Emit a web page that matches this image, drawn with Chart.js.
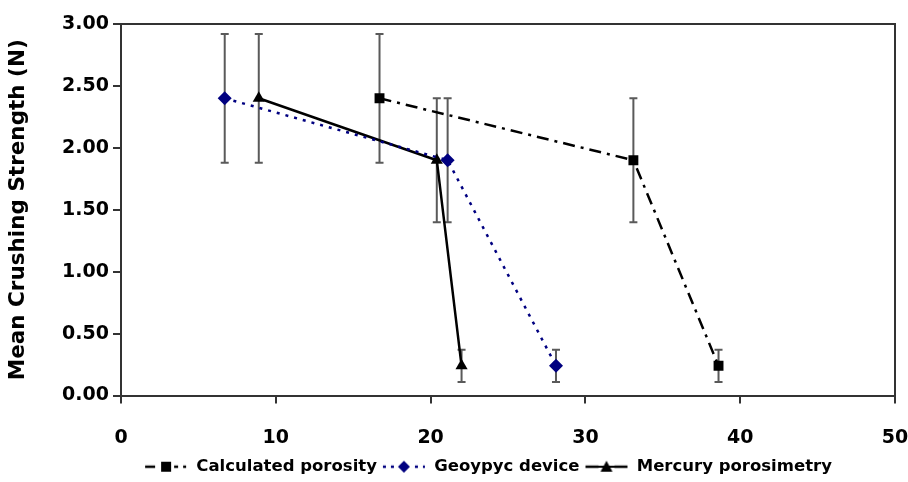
<!DOCTYPE html>
<html>
<head>
<meta charset="utf-8">
<script src="https://cdn.jsdelivr.net/npm/chart.js@4/dist/chart.umd.min.js"></script>
<style>
  html, body { margin: 0; padding: 0; background: #fff; }
  #wrap { width: 908px; height: 482px; }
</style>
</head>
<body>
<div id="wrap"><canvas id="chart" width="908" height="482"></canvas></div>
<script>
// porosity (%)
const calcPorosity = [16.7, 33.1, 38.6];
const geopycPorosity = [6.7, 21.1, 28.1];
const mercuryPorosity = [8.9, 20.4, 22.0];
// mean crushing strength (N), same for the three methods
const crushStrength = [2.40, 1.90, 0.24];
// +/- error (N)
const calcError = [0.52, 0.50, 0.13];
const geopycError = [0.52, 0.50, 0.13];
const mercuryError = [0.52, 0.50, 0.13];

const seriesLabels = ['Calculated porosity', 'Geoypyc device', 'Mercury porosimetry'];
const xTicks = [0, 10, 20, 30, 40, 50];
const yTicks = [0, 0.5, 1, 1.5, 2, 2.5, 3];

const FONT = '"DejaVu Sans", Arial, sans-serif';

function toPoints(xs, ys, errs) {
    return xs.map((x, i) => ({ x: x, y: ys[i], err: errs[i] }));
}

// small canvas used as legend symbol: line sample with the marker in the middle
function legendSymbol(color, dash, marker) {
    const c = document.createElement('canvas');
    c.width = 44;
    c.height = 16;
    const g = c.getContext('2d');
    g.strokeStyle = color;
    g.lineWidth = 2.5;
    g.setLineDash(dash);
    g.beginPath();
    g.moveTo(1, 8);
    g.lineTo(43, 8);
    g.stroke();
    g.setLineDash([]);
    g.fillStyle = '#fff';
    g.fillRect(14, 0, 16, 16);
    g.fillStyle = color;
    g.beginPath();
    if (marker === 'rect') {
        g.rect(17, 3, 10, 10);
    } else if (marker === 'diamond') {
        g.moveTo(22, 2); g.lineTo(28, 8); g.lineTo(22, 14); g.lineTo(16, 8);
    } else {
        g.moveTo(22, 2); g.lineTo(28, 13); g.lineTo(16, 13);
    }
    g.closePath();
    g.fill();
    // reconnect solid line around the marker
    if (dash.length === 0) {
        g.fillRect(8, 7, 28, 2);
    }
    return c;
}

// error bars drawn under the lines
const errorBars = {
    id: 'errorBars',
    beforeDatasetsDraw(chart) {
        const ctx = chart.ctx;
        const xs = chart.scales.x;
        const ys = chart.scales.y;
        ctx.save();
        ctx.strokeStyle = '#5a5a5a';
        ctx.lineWidth = 2;
        chart.data.datasets.forEach(ds => {
            ds.data.forEach(p => {
                const px = xs.getPixelForValue(p.x);
                const top = ys.getPixelForValue(p.y + p.err);
                const bot = ys.getPixelForValue(p.y - p.err);
                ctx.beginPath();
                ctx.moveTo(px, top); ctx.lineTo(px, bot);
                ctx.moveTo(px - 4, top); ctx.lineTo(px + 4, top);
                ctx.moveTo(px - 4, bot); ctx.lineTo(px + 4, bot);
                ctx.stroke();
            });
        });
        ctx.restore();
    }
};

// box round the plot area
const frame = {
    id: 'frame',
    afterDraw(chart) {
        const a = chart.chartArea;
        const ctx = chart.ctx;
        ctx.save();
        ctx.strokeStyle = '#333';
        ctx.lineWidth = 2;
        ctx.beginPath();
        ctx.moveTo(a.left, a.top);
        ctx.lineTo(a.right, a.top);
        ctx.lineTo(a.right, a.bottom);
        ctx.stroke();
        ctx.restore();
    }
};

// the legend sits a little left of the plot centre and low in the original
const legendShift = {
    id: 'legendShift',
    afterLayout(chart) {
        const lg = chart.legend;
        lg.left -= 20;
        lg.right -= 20;
        lg.top += 3;
        lg.bottom += 3;
    }
};

const symbols = [
    legendSymbol('#000', [10, 5, 3, 5], 'rect'),
    legendSymbol('#000080', [3, 5], 'diamond'),
    legendSymbol('#000', [], 'triangle')
];

new Chart(document.getElementById('chart'), {
    type: 'line',
    data: {
        datasets: [{
            label: seriesLabels[0],
            data: toPoints(calcPorosity, crushStrength, calcError),
            borderColor: '#000',
            backgroundColor: '#000',
            borderWidth: 2.5,
            borderDash: [12, 6, 3, 6],
            pointStyle: 'rect',
            pointRadius: 7,
            pointBorderWidth: 0
        }, {
            label: seriesLabels[1],
            data: toPoints(geopycPorosity, crushStrength, geopycError),
            borderColor: '#000080',
            backgroundColor: '#000080',
            borderWidth: 2.5,
            borderDash: [3, 6],
            pointStyle: 'rectRot',
            pointRadius: 7,
            pointBorderWidth: 0
        }, {
            label: seriesLabels[2],
            data: toPoints(mercuryPorosity, crushStrength, mercuryError),
            borderColor: '#000',
            backgroundColor: '#000',
            borderWidth: 2.5,
            pointStyle: 'triangle',
            pointRadius: 7,
            pointBorderWidth: 0
        }]
    },
    options: {
        responsive: false,
        animation: false,
        layout: { padding: { top: 24, right: 13, left: 0, bottom: 0 } },
        plugins: {
            tooltip: { enabled: false },
            legend: {
                position: 'bottom',
                fullSize: false,
                labels: {
                    usePointStyle: true,
                    pointStyleWidth: 44,
                    padding: 5,
                    color: '#000',
                    font: { family: FONT, size: 16.5, weight: 'bold' },
                    generateLabels(chart) {
                        return chart.data.datasets.map((ds, i) => ({
                            text: ds.label,
                            pointStyle: symbols[i],
                            fillStyle: ds.backgroundColor,
                            strokeStyle: ds.borderColor,
                            lineWidth: 0,
                            fontColor: '#000',
                            datasetIndex: i
                        }));
                    }
                }
            }
        },
        scales: {
            x: {
                type: 'linear',
                min: 0,
                max: 50,
                afterBuildTicks(scale) { scale.ticks = xTicks.map(v => ({ value: v })); },
                afterFit(scale) {
                    scale.height = 55;
                    scale.paddingLeft = 0;
                    scale.paddingRight = 0;
                },
                border: { color: '#333', width: 2 },
                grid: { drawOnChartArea: false, tickLength: 8, color: '#333', lineWidth: 2 },
                ticks: {
                    color: '#000',
                    padding: 23,
                    maxRotation: 0,
                    font: { family: FONT, size: 19, weight: 'bold' }
                }
            },
            y: {
                type: 'linear',
                min: 0,
                max: 3,
                afterBuildTicks(scale) { scale.ticks = yTicks.map(v => ({ value: v })); },
                afterFit(scale) {
                    scale.width = 121;
                    scale.paddingTop = 0;
                    scale.paddingBottom = 0;
                },
                border: { color: '#333', width: 2 },
                grid: { drawOnChartArea: false, tickLength: 8, color: '#333', lineWidth: 2 },
                title: {
                    display: true,
                    text: 'Mean Crushing Strength (N)',
                    color: '#000',
                    padding: { top: 6, bottom: 6 },
                    font: { family: FONT, size: 21.5, weight: 'bold' }
                },
                ticks: {
                    color: '#000',
                    padding: 4,
                    callback: v => v.toFixed(2),
                    font: { family: FONT, size: 19, weight: 'bold' }
                }
            }
        }
    },
    plugins: [errorBars, frame, legendShift]
});
</script>
</body>
</html>
